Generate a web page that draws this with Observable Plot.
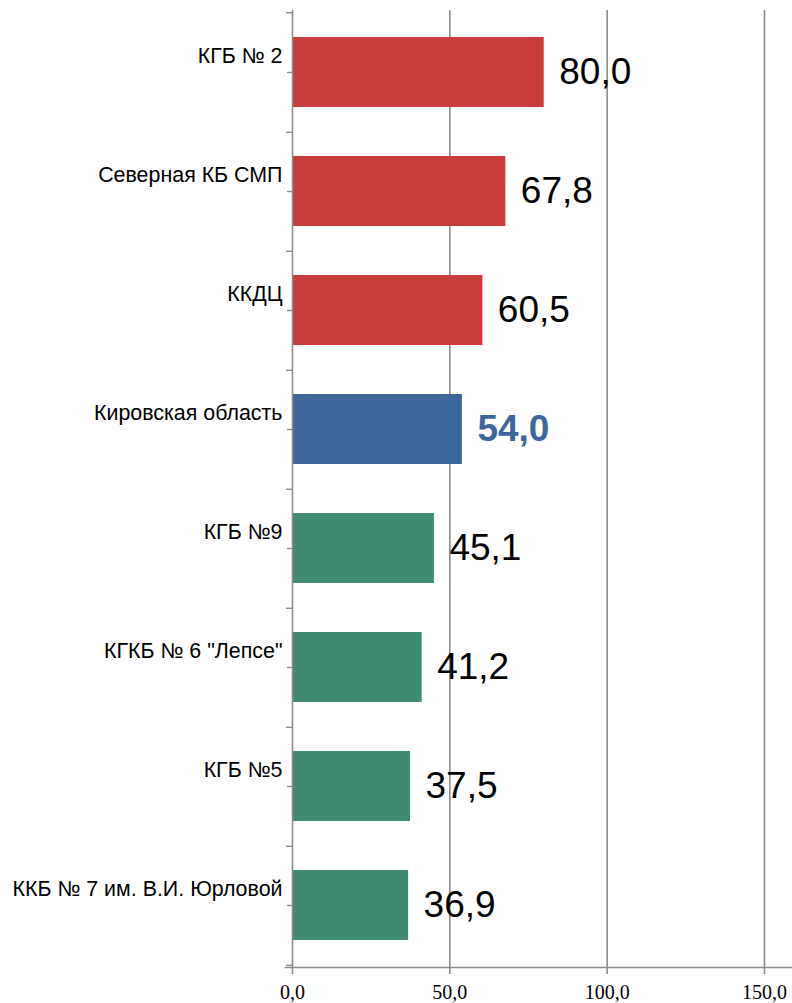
<!DOCTYPE html>
<html>
<head>
<meta charset="utf-8">
<script src="https://cdn.jsdelivr.net/npm/d3@7"></script>
<script src="https://cdn.jsdelivr.net/npm/@observablehq/plot@0.6"></script>
<style>
  html, body { margin: 0; padding: 0; background: #fff; }
  #chart svg { display: block; }
</style>
</head>
<body>
<div id="chart"></div>
<script>
const categories = [
  "КГБ № 2",
  "Северная КБ СМП",
  "ККДЦ",
  "Кировская область",
  "КГБ №9",
  "КГКБ № 6 \"Лепсе\"",
  "КГБ №5",
  "ККБ № 7 им. В.И. Юрловой"
];
const values = [80.0, 67.8, 60.5, 54.0, 45.1, 41.2, 37.5, 36.9];
const groups = ["high", "high", "high", "region", "low", "low", "low", "low"];
const xTicks = [0, 50, 100, 150];

const data = categories.map((name, i) => ({name, value: values[i], group: groups[i]}));
const fmt = v => v.toFixed(1).replace(".", ",");

const W = 792, H = 1003;
const marginTop = 10, marginBottom = 36, marginLeft = 292, marginRight = 0;
const yOpts = {domain: categories, paddingInner: 0.41, paddingOuter: 0.205};
const yStep = Plot.scale({y: {type: "band", ...yOpts, range: [marginTop, H - marginBottom]}}).step;

const axisColor = "#8c8c8c";
const sans = "'Liberation Sans', Arial, sans-serif";

const chart = Plot.plot({
  width: W,
  height: H,
  marginTop, marginBottom, marginLeft, marginRight,
  style: {background: "#fff", fontFamily: sans, overflow: "visible"},
  x: {domain: [0, 158.9]},
  y: {...yOpts, axis: null, label: null},
  color: {domain: ["high", "region", "low"], range: ["#C83D3B", "#3D679B", "#418B70"]},
  marks: [
    Plot.gridX(xTicks.slice(1), {stroke: axisColor, strokeOpacity: 1, strokeWidth: 1.6}),
    Plot.barX(data, {x: "value", y: "name", fill: "group"}),
    Plot.ruleX([0], {stroke: axisColor, strokeWidth: 1.6}),
    Plot.frame({anchor: "bottom", stroke: axisColor, strokeWidth: 1.6, insetLeft: -7}),
    // ticks at category centers
    Plot.axisY({tickSize: 5, text: null, label: null, stroke: axisColor, strokeWidth: 1.4}),
    // ticks at category boundaries
    Plot.axisY({tickSize: 6, text: null, label: null, dy: yStep / 2, stroke: axisColor, strokeWidth: 1.4}),
    Plot.axisY([categories[0]], {tickSize: 6, text: null, label: null, dy: -yStep / 2, stroke: axisColor, strokeWidth: 1.4}),
    // category labels
    Plot.axisY({tickSize: 0, tickPadding: 10, dy: -16, fontSize: 21.4, fill: "#000", fontFamily: sans, label: null}),
    // x axis
    Plot.axisX({ticks: xTicks, tickFormat: fmt, tickSize: 7, tickPadding: 10, stroke: axisColor, strokeWidth: 1.6,
      fontSize: 20, fill: "#000", fontFamily: "'Liberation Serif', 'Times New Roman', serif", label: null}),
    // value labels
    Plot.text(data.filter(d => d.group !== "region"), {x: "value", y: "name", text: d => fmt(d.value),
      dx: 15, textAnchor: "start", fontSize: 37, fill: "#000"}),
    Plot.text(data.filter(d => d.group === "region"), {x: "value", y: "name", text: d => fmt(d.value),
      dx: 15, textAnchor: "start", fontSize: 37, fontWeight: "bold", fill: "#3D679B"})
  ]
});
document.getElementById("chart").append(chart);
</script>
</body>
</html>
